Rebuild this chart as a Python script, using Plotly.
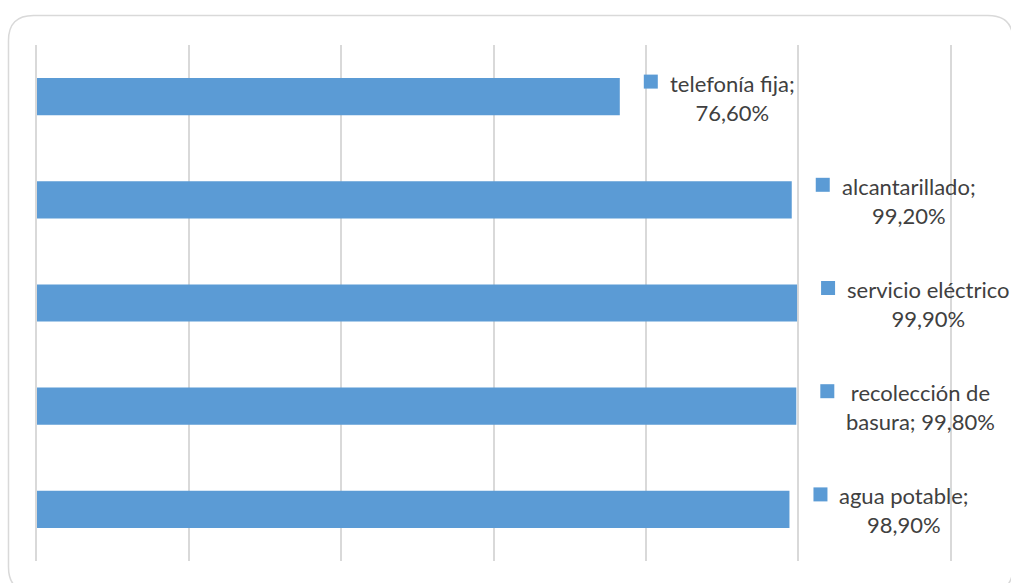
import plotly.graph_objects as go

# Service coverage (percent of households)
categories = ["telefonía fija", "alcantarillado", "servicio eléctrico",
              "recolección de basura", "agua potable"]
values = [76.6, 99.2, 99.9, 99.8, 98.9]
label_lines = [
    ("telefonía fija;", "76,60%"),
    ("alcantarillado;", "99,20%"),
    ("servicio eléctrico", "99,90%"),
    ("recolección de", "basura; 99,80%"),
    ("agua potable;", "98,90%"),
]
x_ticks = [0, 20, 40, 60, 80, 100, 120]

BAR_COLOR = "#5B9BD5"
GRID_COLOR = "#D9D9D9"
TEXT_COLOR = "#404040"
FONT = "Lato"

W, H = 1011, 583
M = dict(l=37, r=61, t=45, b=22)
PW = W - M["l"] - M["r"]
PH = H - M["t"] - M["b"]

fig = go.Figure(go.Bar(
    x=values, y=categories, orientation="h",
    marker=dict(color=BAR_COLOR, line=dict(width=0)),
    width=0.36, hoverinfo="skip",
))

shapes = []
annotations = []
for cat, val, (l1, l2) in zip(categories, values, label_lines):
    # small legend-key square in front of each data label
    shapes.append(dict(
        type="rect", xref="x", yref="y",
        xsizemode="pixel", ysizemode="pixel",
        xanchor=val, yanchor=cat,
        x0=24, x1=38, y0=8, y1=22,
        fillcolor=BAR_COLOR, line=dict(width=0), layer="above",
    ))
    annotations.append(dict(
        x=val, y=cat, xref="x", yref="y",
        text=f"{l1}<br>{l2}", showarrow=False,
        xanchor="left", yanchor="middle", align="center",
        xshift=48, yshift=-1,
        font=dict(family=FONT, size=22, color=TEXT_COLOR),
    ))

# rounded chart-area border
def px2paper(px, py):
    return (px - M["l"]) / PW, 1 - (py - M["t"]) / PH

r = 25
left, right, top, bottom = 8.5, 1013, 15.5, 592
pts = [
    ("M", left + r, top), ("L", right - r, top), ("Q", right, top, right, top + r),
    ("L", right, bottom - r), ("Q", right, bottom, right - r, bottom),
    ("L", left + r, bottom), ("Q", left, bottom, left, bottom - r),
    ("L", left, top + r), ("Q", left, top, left + r, top),
]
path = ""
for p in pts:
    cmd, coords = p[0], p[1:]
    xy = []
    for i in range(0, len(coords), 2):
        a, b = px2paper(coords[i], coords[i + 1])
        xy.append(f"{a:.5f},{b:.5f}")
    path += cmd + " " + " ".join(xy) + " "
path += "Z"
shapes.append(dict(type="path", xref="paper", yref="paper", path=path,
                   line=dict(color=GRID_COLOR, width=1.5), layer="below"))

fig.update_layout(
    width=W, height=H, margin=M,
    paper_bgcolor="white", plot_bgcolor="white",
    showlegend=False, bargap=0.64,
    shapes=shapes, annotations=annotations,
    xaxis=dict(range=[0, 120], tickvals=x_ticks, showticklabels=False,
               showgrid=True, gridcolor=GRID_COLOR, gridwidth=1.5,
               zeroline=False, showline=False, fixedrange=True),
    # left/right edge lines stand in for the 0 % and 120 % grid lines
    yaxis=dict(autorange="reversed", showticklabels=False, showgrid=False,
               zeroline=False, showline=True, mirror=True,
               linecolor=GRID_COLOR, linewidth=1.5, fixedrange=True),
    font=dict(family=FONT, color=TEXT_COLOR),
)

fig.write_html("out.html", config={"displayModeBar": False})
